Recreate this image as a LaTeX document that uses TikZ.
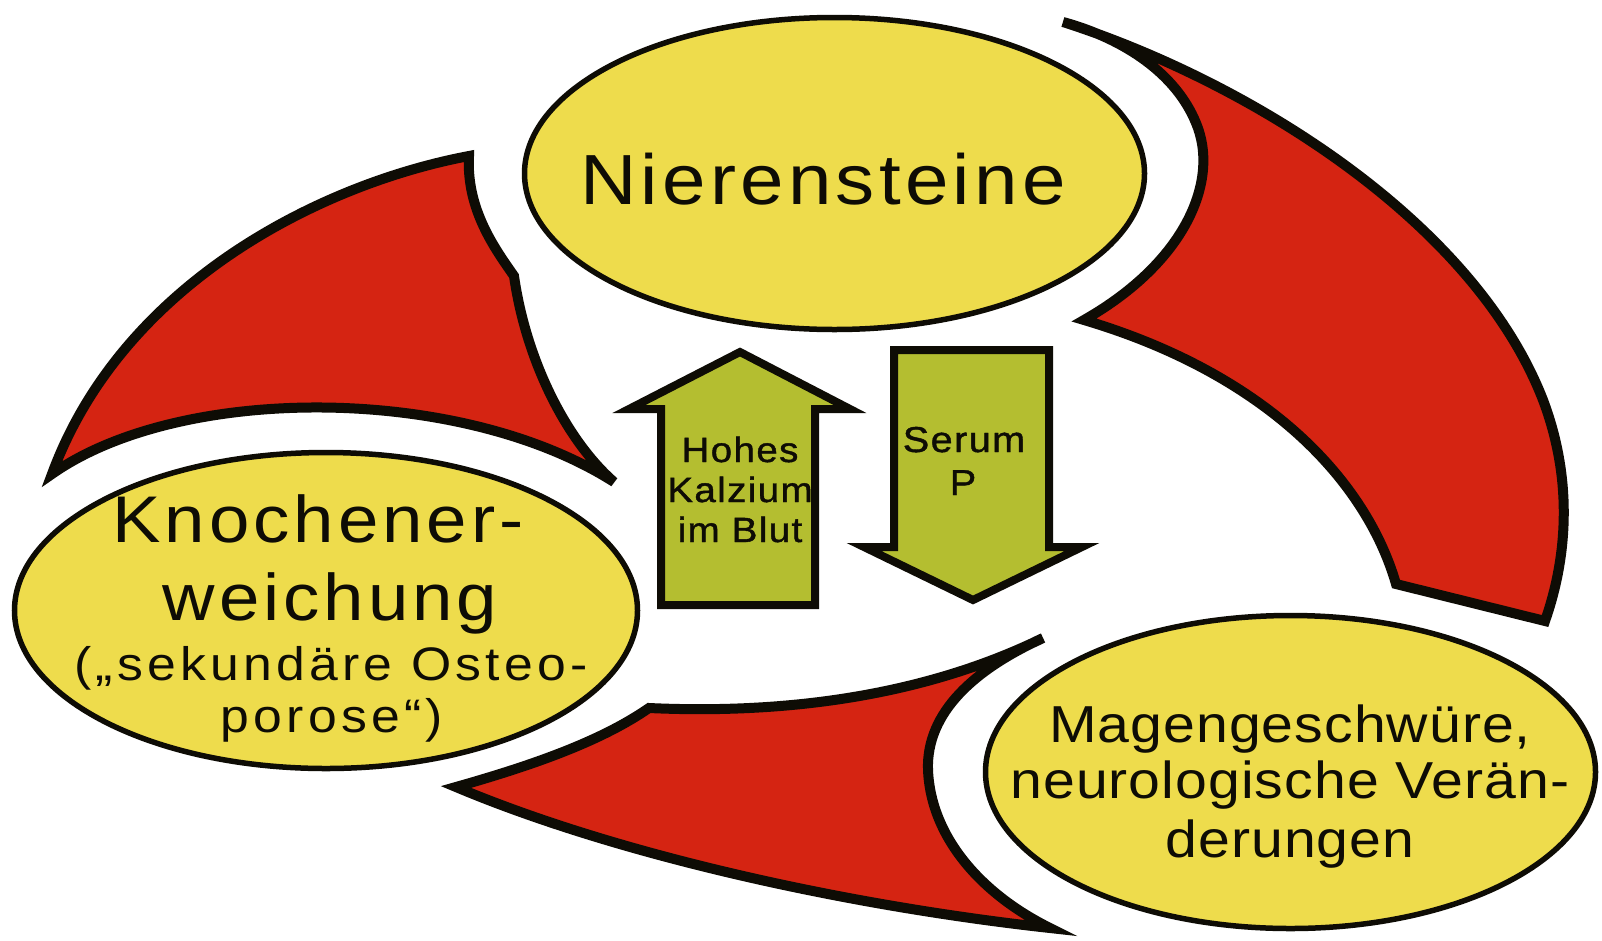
\documentclass[tikz,border=0pt]{standalone}
\usepackage{fontspec}
\setmainfont{Liberation Sans}[FakeStretch=1.1]
\usetikzlibrary{shapes.geometric}
\definecolor{gelb}{RGB}{238,220,76}
\definecolor{rot}{RGB}{213,36,18}
\definecolor{oliv}{RGB}{180,190,48}
\definecolor{tinte}{RGB}{14,12,5}
\newcommand{\ellrand}{5.5pt}
\newcommand{\kreisrand}{10pt}
\newcommand{\schrift}[2]{\fontsize{#1}{#1}\selectfont\addfontfeature{LetterSpace=#2}}

\begin{document}
\begin{tikzpicture}[x=1pt,y=-1pt,
  oval/.style={draw=tinte, fill=gelb, ellipse, line width=\ellrand, inner sep=0pt},
  kreis/.style={draw=tinte, fill=rot, line width=\kreisrand, line join=miter},
  block/.style={draw=tinte, fill=oliv, line width=8pt, line join=miter},
  zeile/.style={anchor=base, inner sep=0pt, text=tinte},
  fett/.style={font=\schrift{#1}{4}\addfontfeature{FakeBold=1.2}}]
\fill[white] (0,0) rectangle (1602,940);
\useasboundingbox (0,0) rectangle (1602,940);

\draw[kreis] (469,156) .. controls (320,184) and (122,284) .. (52,474)
  .. controls (180,384) and (460,384) .. (614,482)
  .. controls (566,440) and (526,360) .. (514,276)
  .. controls (496,250) and (466,210) .. cycle;
\draw[kreis] (1063,22) .. controls (1250,82) and (1474,222) .. (1543,400)
  .. controls (1577,490) and (1563,570) .. (1545,621)
  -- (1396,584)
  .. controls (1366,480) and (1266,374) .. (1084,320)
  .. controls (1186,262) and (1220,180) .. (1196,123)
  .. controls (1176,74) and (1125,39) .. cycle;
\draw[kreis] (649,708) .. controls (780,714) and (920,698) .. (1043,638)
  .. controls (975,669) and (926,712) .. (928,770)
  .. controls (931,840) and (985,896) .. (1050,928)
  .. controls (850,906) and (620,856) .. (456,787)
  .. controls (530,766) and (600,742) .. cycle;

\node (niere) at (834.5,173.5) [oval, minimum width=620pt, minimum height=312pt] {};
\node (knochen) at (326,610.5) [oval, minimum width=623pt, minimum height=316pt] {};
\node (magen) at (1290.5,772) [oval, minimum width=610pt, minimum height=313pt] {};

\draw[block] (661,605) -- (815,605) -- (815,409) -- (850,409) -- (740,352)
  -- (629,409) -- (661,409) -- cycle;
\draw[block] (894,350) -- (1049,350) -- (1049,547) -- (1082,547) -- (973,600)
  -- (864,547) -- (894,547) -- cycle;

\node (n1) at (823,204) [zeile, font=\schrift{71}{6}] {Nierensteine};
\node (k1) at (318,542) [zeile, font=\schrift{66}{6}] {Knochener-};
\node (k2) at (330,620) [zeile, font=\schrift{66}{6}] {weichung};
\node (k3) at (331,680) [zeile, font=\schrift{47}{9}] {(„sekundäre Osteo-};
\node (k4) at (332,732) [zeile, font=\schrift{47}{9}] {porose“)};
\foreach \t/\y [count=\i] in {{Magengeschwüre,}/742, {neurologische Verän-}/798, derungen/857}
  \node (m\i) at (1290,\y) [zeile, font=\schrift{52}{2}] {\t};
\foreach \t/\y [count=\i] in {Hohes/462, Kalzium/502, im Blut/542}
  \node (h\i) at (740,\y) [zeile, fett=35] {\t};
\node (s1) at (964,452) [zeile, fett=36] {Serum};
\node (s2) at (963,495) [zeile, fett=36] {P};
\end{tikzpicture}
\end{document}
